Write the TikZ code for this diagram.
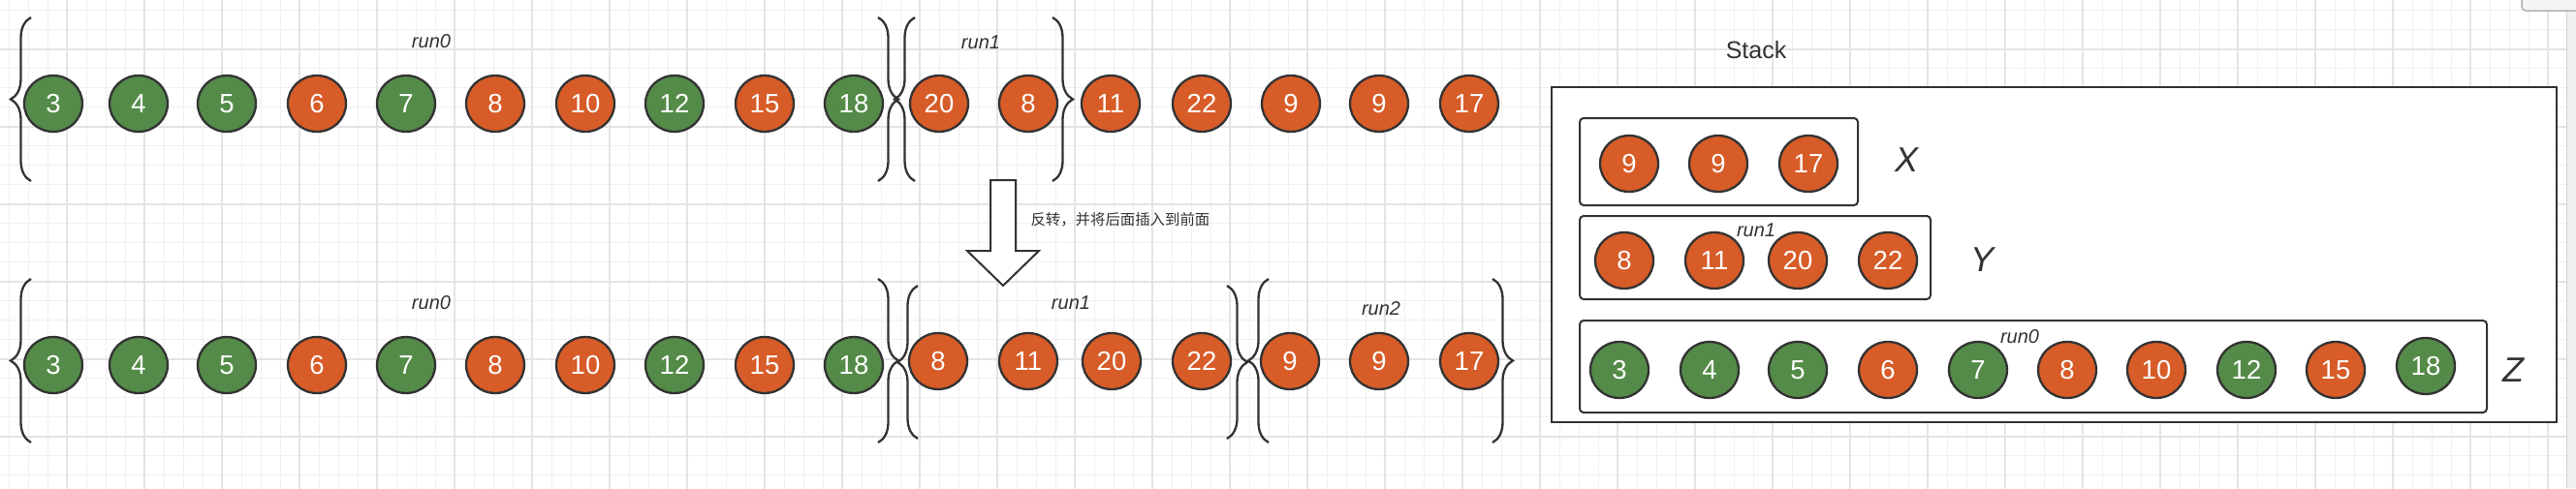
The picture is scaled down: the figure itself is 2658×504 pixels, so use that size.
\documentclass[tikz,border=0pt]{standalone}
\usepackage{fontspec}
\setmainfont{Liberation Sans}
\newfontfamily\cjkfont{Noto Sans CJK SC}
\usetikzlibrary{shapes.geometric, decorations.pathreplacing}

\definecolor{ballgreen}{HTML}{548B48}
\definecolor{ballorange}{HTML}{D75C28}
\definecolor{inkgray}{HTML}{333333}
\definecolor{gridminor}{HTML}{F0F0F0}
\definecolor{gridmajor}{HTML}{E4E4E4}

\tikzset{
  ball/.style={ellipse, draw=inkgray, line width=2.3pt, minimum width=60pt, minimum height=58pt,
    inner sep=0pt, text=white, font=\fontsize{27.5}{27.5}\selectfont},
  gball/.style={ball, fill=ballgreen},
  oball/.style={ball, fill=ballorange},
  runlabel/.style={text=inkgray, font=\fontsize{20}{20}\selectfont\itshape},
  setlabel/.style={text=inkgray, font=\fontsize{36}{36}\selectfont\itshape},
  curly/.style={draw=inkgray, line width=2.3pt, decorate, decoration={brace, amplitude=21pt}},
  frame/.style={draw=inkgray, line width=2.3pt, fill=white, inner sep=0pt},
  runbox/.style={frame, line width=2pt, rounded corners=4pt},
}

\begin{document}
\begin{tikzpicture}[x=1pt, y=-1pt]
    \useasboundingbox (0,0) rectangle (2658,504);
    % background grid
    \fill[white] (0,0) rectangle (2658,504);
    \draw[gridminor, line width=1.3pt, xstep=20pt, ystep=20pt, shift={(9.3,10.7)}] (-20,520) grid (2680,-20);
    \draw[gridmajor, line width=2pt, xstep=80pt, ystep=80pt, shift={(69.3,50.7)}] (-80,540) grid (2680,-80);
    \fill[gray!12] (2648,0) rectangle (2658,504);
    \draw[gray!35, line width=1pt] (2648,0) -- (2648,504);
    \draw[gray!60, fill=gray!8, line width=1.5pt, rounded corners=4pt] (2602,-10) rectangle (2680,11);

    % top row
    \node[gball] (t1) at (55,107) {3};
    \node[gball] (t2) at (143,107) {4};
    \node[gball] (t3) at (234,107) {5};
    \node[oball] (t4) at (327,107) {6};
    \node[gball] (t5) at (419,107) {7};
    \node[oball] (t6) at (511,107) {8};
    \node[oball] (t7) at (604,107) {10};
    \node[gball] (t8) at (696,107) {12};
    \node[oball] (t9) at (789,107) {15};
    \node[gball] (t10) at (881,107) {18};
    \node[oball] (t11) at (969,107) {20};
    \node[oball] (t12) at (1061,107) {8};
    \node[oball] (t13) at (1146,107) {11};
    \node[oball] (t14) at (1240,107) {22};
    \node[oball] (t15) at (1332,107) {9};
    \node[oball] (t16) at (1423,107) {9};
    \node[oball] (t17) at (1516,107) {17};
    \node[runlabel] (trun0) at (445,43) {run0};
    \node[runlabel] (trun1) at (1012,44) {run1};
    \draw[curly] (32,187) -- (32,18);
    \draw[curly] (906,18) -- (906,187);
    \draw[curly] (944,187) -- (944,18);
    \draw[curly] (1086,18) -- (1086,187);

    % reverse and insert
    \draw[frame, line width=2pt] (1022,186) -- (1048,186) -- (1048,259) -- (1072,259) -- (1035,295)
        -- (998,259) -- (1022,259) -- cycle;
    \node[anchor=west, text=inkgray, font=\cjkfont\fontsize{15.4}{16}\selectfont] (note) at (1060,227) {反转，并将后面插入到前面};

    % bottom row
    \node[gball] (b1) at (55,377) {3};
    \node[gball] (b2) at (143,377) {4};
    \node[gball] (b3) at (234,377) {5};
    \node[oball] (b4) at (327,377) {6};
    \node[gball] (b5) at (419,377) {7};
    \node[oball] (b6) at (511,377) {8};
    \node[oball] (b7) at (604,377) {10};
    \node[gball] (b8) at (696,377) {12};
    \node[oball] (b9) at (789,377) {15};
    \node[gball] (b10) at (881,377) {18};
    \node[oball] (b11) at (968,373) {8};
    \node[oball] (b12) at (1061,373) {11};
    \node[oball] (b13) at (1147,373) {20};
    \node[oball] (b14) at (1240,373) {22};
    \node[oball] (b15) at (1331,373) {9};
    \node[oball] (b16) at (1423,373) {9};
    \node[oball] (b17) at (1516,373) {17};
    \node[runlabel] (brun0) at (445,313) {run0};
    \node[runlabel] (brun1) at (1105,313) {run1};
    \node[runlabel] (brun2) at (1425,319) {run2};
    \draw[curly] (32,457) -- (32,288);
    \draw[curly] (906,288) -- (906,457);
    \draw[curly] (947,453) -- (947,295);
    \draw[curly] (1266,295) -- (1266,453);
    \draw[curly] (1309,457) -- (1309,288);
    \draw[curly] (1540,288) -- (1540,457);

    % stack
    \node[text=inkgray, font=\fontsize{25}{25}\selectfont] (stacktitle) at (1812,52) {Stack};
    \node[frame, minimum width=1037pt, minimum height=346pt] (stack) at (2119.5,263) {};
    \node[runbox, minimum width=287pt, minimum height=90pt] (boxX) at (1773.5,167) {};
    \node[runbox, minimum width=362pt, minimum height=86pt] (boxY) at (1811,266) {};
    \node[runbox, minimum width=936pt, minimum height=95pt] (boxZ) at (2098,378.5) {};

    \node[oball] (x1) at (1681,169) {9};
    \node[oball] (x2) at (1773,169) {9};
    \node[oball] (x3) at (1866,169) {17};
    \node[setlabel] (labX) at (1967,165) {X};

    \node[oball] (y1) at (1676,269) {8};
    \node[oball] (y2) at (1769,269) {11};
    \node[oball] (y3) at (1855,269) {20};
    \node[oball] (y4) at (1948,269) {22};
    \node[runlabel] (yrun1) at (1812,238) {run1};
    \node[setlabel] (labY) at (2045,268) {Y};

    \node[gball] (z1) at (1671,382) {3};
    \node[gball] (z2) at (1764,382) {4};
    \node[gball] (z3) at (1855,382) {5};
    \node[oball] (z4) at (1948,382) {6};
    \node[gball] (z5) at (2041,382) {7};
    \node[oball] (z6) at (2133,382) {8};
    \node[oball] (z7) at (2225,382) {10};
    \node[gball] (z8) at (2318,382) {12};
    \node[oball] (z9) at (2410,382) {15};
    \node[gball] (z10) at (2503,378) {18};
    \node[runlabel] (zrun0) at (2084,348) {run0};
    \node[setlabel] (labZ) at (2593,382) {Z};
\end{tikzpicture}
\end{document}
